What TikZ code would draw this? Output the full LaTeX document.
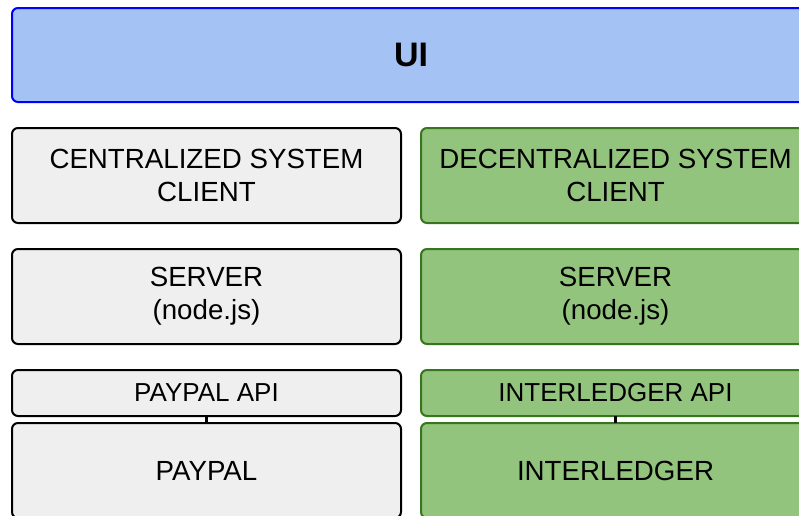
\documentclass[tikz,border=0pt]{standalone}
\usepackage{fontspec}
\setmainfont{Liberation Sans}
\usetikzlibrary{positioning}
\definecolor{UiBlue}{HTML}{A4C2F4}
\definecolor{UiEdge}{HTML}{0000FF}
\definecolor{CenGray}{HTML}{EFEFEF}
\definecolor{DecGreen}{HTML}{93C47D}
\definecolor{DecEdge}{HTML}{38761D}

\begin{document}
\begin{tikzpicture}[
  x=1pt,y=1pt,
  node distance=26pt and 20pt,
  layer/.style={line width=2pt,rounded corners=6pt,outer sep=0pt,inner sep=0pt,
    minimum width=389pt,minimum height=95pt,align=center,
    font=\fontsize{27.7}{33}\selectfont},
  cen/.style={layer,fill=CenGray,draw=black},
  dec/.style={layer,fill=DecGreen,draw=DecEdge},
  api/.style={minimum height=46pt,font=\fontsize{26}{30}\selectfont},
  link/.style={line width=3pt,color=black}
]
\useasboundingbox (0,0) rectangle (799,-515);
\clip (0,0) rectangle (799,-515);
\node[layer,fill=UiBlue,draw=UiEdge,minimum width=798pt,minimum height=94pt,
  font=\fontsize{34}{40}\selectfont\bfseries] (ui) at (411,-55) {UI};
% centralized column
\node[cen] (cclient) at (206.5,-175.5) {CENTRALIZED SYSTEM\\CLIENT};
\node[cen,below=of cclient] (cserver) {SERVER\\(node.js)};
\node[cen,api,below=of cserver] (papi) {PAYPAL API};
\node[cen,below=7pt of papi] (paypal) {PAYPAL};
% decentralized column
\node[dec,right=of cclient] (dclient) {DECENTRALIZED SYSTEM\\CLIENT};
\node[dec,right=of cserver] (dserver) {SERVER\\(node.js)};
\node[dec,api,right=of papi] (iapi) {INTERLEDGER API};
\node[dec,right=of paypal] (ilp) {INTERLEDGER};
\draw[link] (papi.south) -- (paypal.north);
\draw[link] (iapi.south) -- (ilp.north);
\end{tikzpicture}
\end{document}
